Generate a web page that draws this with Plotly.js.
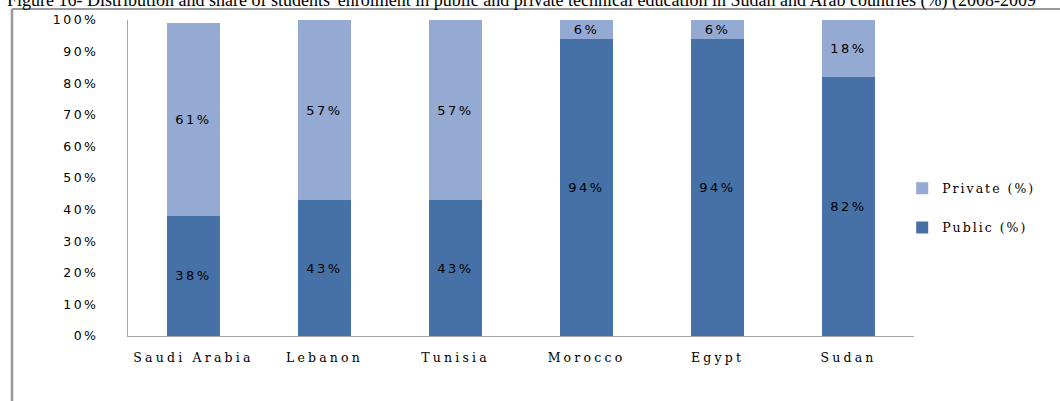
<!DOCTYPE html>
<html>
<head>
<meta charset="utf-8">
<script src="https://cdn.plot.ly/plotly-3.0.1.min.js"></script>
<style>
html,body{margin:0;padding:0;background:#fff;}
#chart{width:1060px;height:401px;}
.ytick text{letter-spacing:2.5px;}
.xtick text{letter-spacing:3.2px;}
.legendtext{letter-spacing:2px;}
.bartext text, text.bartext{letter-spacing:2.5px;}
</style>
</head>
<body>
<div id="chart"></div>
<script>
var categories = ["Saudi Arabia", "Lebanon", "Tunisia", "Morocco", "Egypt", "Sudan"];
var publicShare = [38, 43, 43, 94, 94, 82];
var privateShare = [61, 57, 57, 6, 6, 18];
var yTickValues = [0, 10, 20, 30, 40, 50, 60, 70, 80, 90, 100];
var yTickLabels = ["0%", "10%", "20%", "30%", "40%", "50%", "60%", "70%", "80%", "90%", "100%"];
var titleText = "Figure 16- Distribution and share of students' enrolment in public and private technical education in Sudan and Arab countries (%) (2008-2009";

var labelFont = {family: "DejaVu Sans", size: 13, color: "#000"};

var traces = [
  {
    type: "bar", name: "Public (%)", x: categories, y: publicShare,
    marker: {color: "#4571A7"}, legendgroup: "pub", legendrank: 2,
    text: publicShare.map(function(v){return v + "%";}),
    textposition: "inside", insidetextanchor: "middle", constraintext: "none",
    textfont: labelFont, hoverinfo: "x+y"
  },
  {
    type: "bar", name: "Private (%)", x: categories, y: privateShare,
    marker: {color: "#94AAD2"}, legendgroup: "priv", legendrank: 1,
    text: privateShare.map(function(v){return v + "%";}),
    textposition: "inside", insidetextanchor: "middle", constraintext: "none",
    textfont: labelFont, hoverinfo: "x+y"
  }
];

var layout = {
  width: 1060, height: 401,
  margin: {l: 128, r: 146, t: 20, b: 65, pad: 0},
  paper_bgcolor: "#fff", plot_bgcolor: "#fff",
  barmode: "stack", bargap: 0.6,
  title: {
    text: titleText, x: 0.0066, xanchor: "left", xref: "container",
    y: 1.0, yanchor: "middle", yref: "container", pad: {t: 0, b: 0},
    font: {family: "Liberation Serif", size: 18, color: "#000"}
  },
  xaxis: {
    type: "category", showline: true, linecolor: "#a6a6a6", linewidth: 1,
    ticks: "", showgrid: false, zeroline: false,
    tickfont: {family: "DejaVu Serif", size: 12.5, color: "#000"},
    ticklabelstandoff: 10
  },
  yaxis: {
    range: [0, 100], tickvals: yTickValues, ticktext: yTickLabels,
    showline: true, linecolor: "#a6a6a6", linewidth: 1,
    ticks: "", showgrid: false, zeroline: false,
    tickfont: {family: "DejaVu Sans", size: 12.5, color: "#000"},
    ticklabelstandoff: 26
  },
  legend: {
    x: 0.985, xanchor: "left", y: 0.405, yanchor: "middle",
    traceorder: "grouped", tracegroupgap: 20,
    font: {family: "DejaVu Serif", size: 12.5, color: "#000"},
    itemwidth: 30, bgcolor: "rgba(0,0,0,0)"
  },
  shapes: [
    {type: "line", xref: "paper", yref: "paper", x0: -0.1476, x1: 1.19, y0: 1.0348, y1: 1.0348,
     line: {color: "#999", width: 2}},
    {type: "line", xref: "paper", yref: "paper", x0: -0.1476, x1: -0.1476, y0: 1.0348, y1: -0.21,
     line: {color: "#999", width: 2.5}}
  ],
  showlegend: true
};

Plotly.newPlot("chart", traces, layout, {displayModeBar: false, staticPlot: true});
</script>
</body>
</html>
